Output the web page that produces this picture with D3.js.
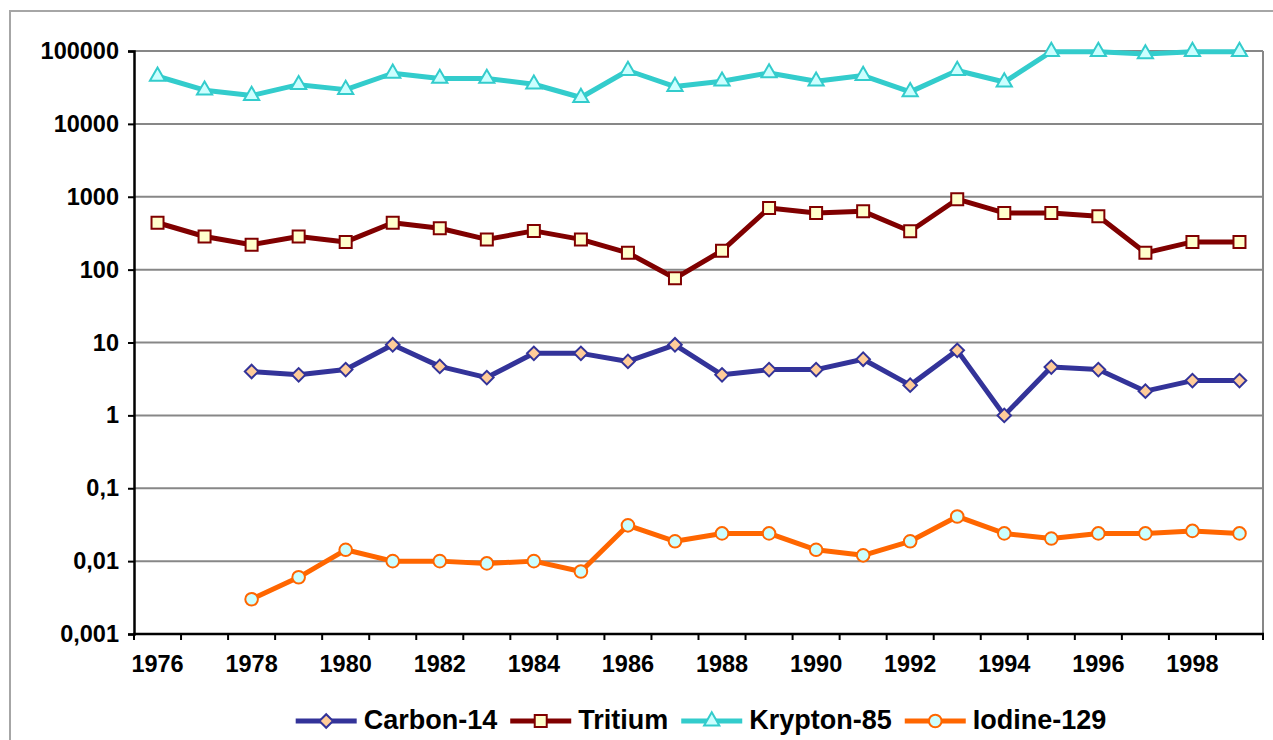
<!DOCTYPE html>
<html>
<head>
<meta charset="utf-8">
<script src="https://cdn.jsdelivr.net/npm/d3@7"></script>
<style>
  body { margin: 0; background: #fff; }
  svg { display: block; font-family: "Liberation Sans", Arial, sans-serif; font-weight: bold; }
</style>
</head>
<body>
<svg id="chart"></svg>
<script>
// data
const years = d3.range(1976, 2000)
const xTickYears = [1976, 1978, 1980, 1982, 1984, 1986, 1988, 1990, 1992, 1994, 1996, 1998]
const yTicks = [0.001, 0.01, 0.1, 1, 10, 100, 1000, 10000, 100000]
const yTickLabels = ['0,001', '0,01', '0,1', '1', '10', '100', '1000', '10000', '100000']

const seriesNames = ['Carbon-14', 'Tritium', 'Krypton-85', 'Iodine-129']

// null = no value for that year
const carbon14 = [null, null, 4.0, 3.6, 4.25, 9.3, 4.7, 3.3, 7.1, 7.1, 5.5, 9.3, 3.6, 4.25, 4.25, 5.9, 2.6, 7.8, 1.0, 4.6, 4.25, 2.15, 3.0, 3.0]
const tritium = [440, 285, 220, 285, 240, 440, 370, 260, 340, 260, 170, 76, 182, 700, 600, 630, 336, 925, 600, 600, 540, 170, 240, 240]
const krypton85 = [45000, 29000, 24500, 34500, 29500, 49500, 42000, 42000, 35000, 23000, 54000, 32500, 38500, 50000, 38500, 46000, 27500, 54000, 37500, 98000, 98000, 91000, 98000, 98000]
const iodine129 = [null, null, 0.003, 0.006, 0.0143, 0.01, 0.01, 0.0093, 0.01, 0.0072, 0.031, 0.0187, 0.024, 0.024, 0.0143, 0.012, 0.0187, 0.041, 0.024, 0.0204, 0.024, 0.024, 0.026, 0.024]

const seriesValues = [carbon14, tritium, krypton85, iodine129]

const styles = [
  { line: '#333399', fill: '#FFCC99', stroke: '#333399', symbol: 'diamond', size: 92 },
  { line: '#800000', fill: '#FFFFCC', stroke: '#800000', symbol: 'square', size: 144 },
  { line: '#33CCCC', fill: '#CCFFFF', stroke: '#33CCCC', symbol: 'triangle', size: 100 },
  { line: '#FF6600', fill: '#CCFFFF', stroke: '#FF6600', symbol: 'circle', size: 125 }
]

const W = 1273, H = 740
const plot = { left: 134, right: 1263, top: 51, bottom: 634 }

const svg = d3.select('#chart').attr('width', W).attr('height', H)

// outer chart frame (runs off right/bottom edge like the reference)
svg.append('rect')
  .attr('x', 10).attr('y', 11)
  .attr('width', W + 20).attr('height', H + 20)
  .attr('fill', '#fff')
  .attr('stroke', '#a6a6a6')
  .attr('stroke-width', 2)

const xScale = d3.scaleBand()
  .domain(years)
  .range([plot.left, plot.right])
  .padding(0)

const yScale = d3.scaleLog()
  .domain([0.001, 100000])
  .range([plot.bottom, plot.top])

const xc = d => xScale(d) + xScale.bandwidth() / 2

// gridlines
svg.append('g')
  .selectAll('line')
  .data(yTicks.slice(1))
  .join('line')
  .attr('x1', plot.left).attr('x2', plot.right)
  .attr('y1', d => yScale(d)).attr('y2', d => yScale(d))
  .attr('stroke', '#878787')
  .attr('stroke-width', 2)

// right border of plot area
svg.append('line')
  .attr('x1', plot.right).attr('x2', plot.right)
  .attr('y1', plot.top).attr('y2', plot.bottom)
  .attr('stroke', '#878787')
  .attr('stroke-width', 2)

// y axis
const yAxis = d3.axisLeft(yScale)
  .tickValues(yTicks)
  .tickFormat((d, i) => yTickLabels[i])
  .tickSize(6)
  .tickPadding(9)

const yAxisG = svg.append('g')
  .attr('transform', `translate(${plot.left},0)`)
  .call(yAxis)
yAxisG.select('.domain').attr('stroke', '#000').attr('stroke-width', 2.5)
yAxisG.selectAll('.tick line').attr('stroke', '#000').attr('stroke-width', 2)
yAxisG.selectAll('.tick text')
  .attr('fill', '#000')
  .style('font-size', '23.5px')
  .style('font-family', '"Liberation Sans", Arial, sans-serif')
  .style('font-weight', 'bold')

// x axis: ticks on category boundaries, labels every second year
const xAxisG = svg.append('g')
const boundaries = years.map(y => xScale(y)).concat([plot.right])
xAxisG.selectAll('.xtick')
  .data(boundaries)
  .join('line')
  .attr('class', 'xtick')
  .attr('x1', d => d).attr('x2', d => d)
  .attr('y1', plot.bottom).attr('y2', plot.bottom + 6)
  .attr('stroke', '#000')
  .attr('stroke-width', 2)
xAxisG.append('line')
  .attr('x1', plot.left - 1).attr('x2', plot.right + 1)
  .attr('y1', plot.bottom).attr('y2', plot.bottom)
  .attr('stroke', '#000')
  .attr('stroke-width', 2.5)
xAxisG.selectAll('.xlabel')
  .data(xTickYears)
  .join('text')
  .attr('class', 'xlabel')
  .attr('x', d => xc(d))
  .attr('y', plot.bottom + 38)
  .attr('text-anchor', 'middle')
  .style('font-size', '23.5px')
  .text(d => d)

// series
const symbolTypes = {
  diamond: d3.symbolSquare,
  square: d3.symbolSquare,
  triangle: d3.symbolTriangle,
  circle: d3.symbolCircle
}

const line = d3.line()
  .defined(d => d.v != null)
  .x(d => xc(d.year))
  .y(d => yScale(d.v))

function drawMarker(g, st) {
  g.append('path')
    .attr('d', d3.symbol().type(symbolTypes[st.symbol]).size(st.size)())
    .attr('transform', st.symbol === 'diamond' ? 'rotate(45)' : null)
    .attr('fill', st.fill)
    .attr('stroke', st.stroke)
    .attr('stroke-width', 2)
}

seriesValues.forEach((vals, i) => {
  const st = styles[i]
  const pts = years.map((year, j) => ({ year, v: vals[j] }))
  const g = svg.append('g').attr('class', 'series')
  g.append('path')
    .datum(pts)
    .attr('d', line)
    .attr('fill', 'none')
    .attr('stroke', st.line)
    .attr('stroke-width', 5)
    .attr('stroke-linejoin', 'round')
  g.selectAll('.marker')
    .data(pts.filter(d => d.v != null))
    .join('g')
    .attr('class', 'marker')
    .attr('transform', d => `translate(${xc(d.year)},${yScale(d.v)})`)
    .each(function() { drawMarker(d3.select(this), st) })
})

// legend
const legend = svg.append('g')
const legendY = 721
const lineLen = 61, textGap = 7, itemGap = 13
const items = seriesNames.map((name, i) => {
  const g = legend.append('g')
  g.append('line')
    .attr('x1', 0).attr('x2', lineLen)
    .attr('y1', 0).attr('y2', 0)
    .attr('stroke', styles[i].line)
    .attr('stroke-width', 5)
  const m = g.append('g').attr('transform', `translate(${lineLen / 2},0)`)
  drawMarker(m, styles[i])
  const t = g.append('text')
    .attr('x', lineLen + textGap)
    .attr('y', 8)
    .style('font-size', '27px')
    .text(name)
  const w = lineLen + textGap + t.node().getComputedTextLength()
  return { g, w }
})
const total = d3.sum(items, d => d.w) + itemGap * (items.length - 1)
let lx = 701 - total / 2
items.forEach(it => {
  it.g.attr('transform', `translate(${lx},${legendY})`)
  lx += it.w + itemGap
})
</script>
</body>
</html>
